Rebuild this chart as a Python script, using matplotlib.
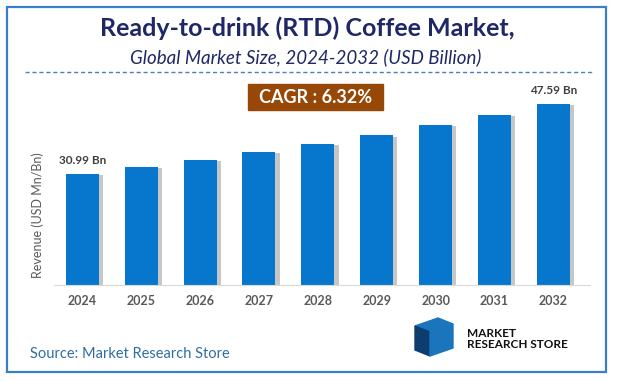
import matplotlib
matplotlib.use("Agg")
from matplotlib import pyplot
from matplotlib import patheffects
from matplotlib.patches import Rectangle, Polygon

years = ["2024", "2025", "2026", "2027", "2028", "2029", "2030", "2031", "2032"]
revenue = [30.99, 32.7, 34.4, 36.2, 38.1, 40.2, 42.6, 45.0, 47.59]
labels = {0: "30.99 Bn", 8: "47.59 Bn"}
cagr = "CAGR : 6.32%"

pyplot.rcParams["font.family"] = ["Lato", "DejaVu Sans"]

W, H = 617, 381
fig = pyplot.figure(figsize=(W / 100, H / 100), dpi=100)

def fx(x):
    return x / W

def fy(y):
    return 1 - y / H

# frame
fig.patches.append(Rectangle((fx(7), fy(372)), fx(606) - fx(7), fy(7) - fy(372),
                             transform=fig.transFigure, fill=False,
                             edgecolor="#3A7DC8", lw=1.6))

navy = "#1F2766"
fig.text(fx(307), fy(28), "Ready-to-drink (RTD) Coffee Market,", ha="center", va="center",
         fontsize=18, fontweight="bold", color=navy)
fig.text(fx(306), fy(57), "Global Market Size, 2024-2032 (USD Billion)", ha="center", va="center",
         fontsize=13.5, style="italic", color=navy)
fig.lines.append(pyplot.Line2D([fx(25), fx(593)], [fy(72), fy(72)], transform=fig.transFigure,
                               color="#4A7EC0", lw=1, ls=(0, (3, 2))))

# CAGR box
fig.patches.append(Rectangle((fx(248), fy(110)), fx(383) - fx(248), fy(84) - fy(110),
                             transform=fig.transFigure, color="#974706"))
fig.text(fx(315.5), fy(97.5), cagr, ha="center", va="center", fontsize=13,
         fontweight="bold", color="white")

ax = fig.add_axes([fx(54), fy(285), fx(590) - fx(54), fy(85) - fy(285)])
base = 4.67
x = range(len(years))
bars = ax.bar(x, [v - base for v in revenue], bottom=base, width=0.56, color="#0777CE")
for b in bars:
    b.set_path_effects([patheffects.SimplePatchShadow(offset=(3, -1), shadow_rgbFace="#a0a0a0", alpha=0.6),
                        patheffects.Normal()])
for i, t in labels.items():
    ax.text(i, revenue[i] + 1.8, t, ha="center", va="bottom", fontsize=8.5,
            fontweight="bold", color="#404040")

ax.set_xlim(-0.48, 8.62)
ax.set_ylim(base, base + 200 / 4.217)
ax.set_xticks(list(x))
ax.set_xticklabels(years, fontsize=9, fontweight="bold", color="#595959")
ax.tick_params(axis="x", length=0, pad=7)
ax.set_yticks([])
for s in ["top", "right", "left"]:
    ax.spines[s].set_visible(False)
ax.spines["bottom"].set_color("#D9D9D9")
ax.set_ylabel("Revenue (USD Mn/Bn)", fontsize=9, color="#595959")
ax.yaxis.set_label_coords(-0.018, 0.35)

fig.text(fx(30), fy(354), "Source: Market Research Store", ha="left", va="center",
         fontsize=10.5, color="#2E6DA4")

# logo
blue = "#1B75BC"
dark = "#0D3C6E"
for pts, c in [
    ([(415, 326), (438, 318), (453, 324), (430, 332)], blue),
    ([(415, 326), (430, 332), (430, 356), (415, 350)], dark),
    ([(430, 332), (453, 324), (453, 348), (430, 356)], blue),
]:
    fig.patches.append(Polygon([(fx(a), fy(b)) for a, b in pts], closed=True,
                               transform=fig.transFigure, color=c))
fig.text(fx(467), fy(339), "MARKET\nRESEARCH STORE", ha="left", va="center", fontsize=8.5,
         fontweight="bold", color="#111111", linespacing=0.9)

fig.savefig("out.png", dpi=100)
